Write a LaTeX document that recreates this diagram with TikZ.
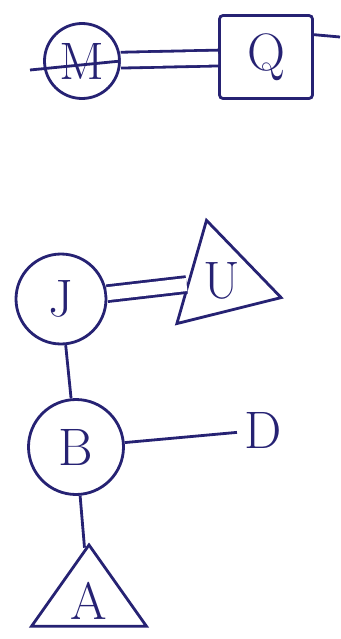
\documentclass[tikz,border=0pt]{standalone}
\usepackage{xcolor}
\usepackage{tikz}
\usetikzlibrary{shapes.geometric}

\definecolor{ink}{RGB}{38,34,115}
\newcommand{\inkfont}{\fontsize{30}{34}\selectfont}

\begin{document}
\begin{tikzpicture}[
  attr/.style={draw=ink, circle, line width=1.6pt, inner sep=0pt,
               text=ink, font=\inkfont},
  ent/.style={draw=ink, rectangle, rounded corners=2pt, line width=1.6pt,
              minimum width=1.86cm, minimum height=1.66cm, text=ink, font=\inkfont},
  tri/.style={draw=ink, regular polygon, regular polygon sides=3,
              line width=1.6pt, inner sep=0pt, text=ink, font=\inkfont},
  flattri/.style={draw=ink, isosceles triangle, isosceles triangle stretches,
              line width=1.6pt, inner sep=0pt, text=ink, font=\inkfont},
  link/.style={draw=ink, line width=1.6pt},
  dlink/.style={link, double, double distance=0.26cm}
]
  \path[use as bounding box] (0,0) rectangle (6.8,-12.78);
  % top pair
  \node[attr, minimum size=1.5cm] (M) at (1.64,-1.22) {M};
  \node[ent] (Q) at (5.32,-1.14) {Q};
  \coordinate (ml) at (0.6,-1.4);
  \coordinate (qr) at (6.8,-0.74);
  \draw[link] (ml) -- (M.east);
  \draw[dlink] (M) -- (Q);
  \draw[link] (Q.25) -- (qr);
  % lower group
  \node[attr, minimum size=1.8cm] (J) at (1.22,-5.98) {J};
  \node[tri, shape border rotate=14, minimum size=2.48cm] (U) at (4.43,-5.61) {U};
  \node[attr, minimum size=1.9cm] (B) at (1.52,-8.94) {B};
  \node[text=ink, font=\inkfont, inner sep=4pt] (D) at (5.26,-8.6) {D};
  \node[flattri, shape border rotate=96, minimum width=2.3cm,
        minimum height=1.45cm] (A) at (1.78,-12.02) {A};
  \draw[dlink] (J) -- (U);
  \draw[link] (J) -- (B);
  \draw[link] (B) -- (D);
  \draw[link] (B) -- (A);
\end{tikzpicture}
\end{document}
